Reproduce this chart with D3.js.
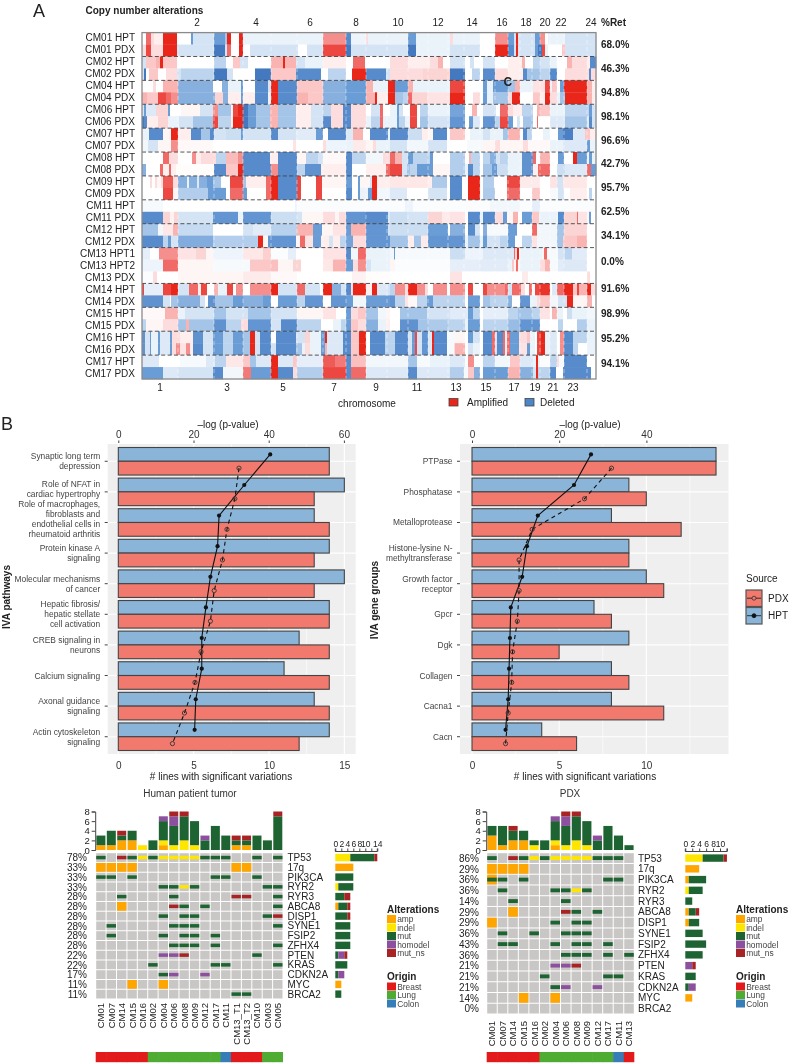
<!DOCTYPE html>
<html><head><meta charset="utf-8">
<script src="https://d3js.org/d3.v7.min.js"></script>
<style>
html,body{margin:0;padding:0;background:#fff}
svg{display:block;filter:blur(0.35px)}
text{font-family:"Liberation Sans",Arial,sans-serif;fill:#222}
</style></head><body><svg id="c" width="789" height="1063"></svg>
<script>
// ---------- Panel A data: "end:level" runs along the genome axis (0-454 bins)
const cnSamples = ["CM01 HPT","CM01 PDX","CM02 HPT","CM02 PDX","CM04 HPT","CM04 PDX","CM06 HPT","CM06 PDX","CM07 HPT","CM07 PDX","CM08 HPT","CM08 PDX","CM09 HPT","CM09 PDX","CM11 HPT","CM11 PDX","CM12 HPT","CM12 PDX","CM13 HPT1","CM13 HPT2","CM13 PDX","CM14 HPT","CM14 PDX","CM15 HPT","CM15 PDX","CM16 HPT","CM16 PDX","CM17 HPT","CM17 PDX"];
const cnRuns = [
"4:0 9:3 12:1 21:.5 35:4 49:0 51:-3 72:-1 83:-3 85:-2 89:4 97:0 101:4 181:-.5 204:2.5 209:-3.5 224:-.4 226:1 258:-.5 266:-.5 274:-3 308:-.5 311:1 338:-.5 353:0 366:2.5 372:-3 374:-1 376:4 393:-1 398:-3 403:2.5 406:0 423:-.5 445:-1 454:-1",
"4:1 9:3.5 21:1 35:4 72:-1 83:-4 85:-1 89:3 97:0 101:4 108:0 156:-1 165:0 181:-1 204:3.5 209:-4 258:-1 266:-1 274:-4 308:-.5 311:-1 338:-1 353:0 366:4 372:-3.5 374:-1 376:4 393:-1 396:-3 400:-4 403:3.5 406:-.5 420:0 423:1.5 445:-1 454:-1",
"4:-1 14:1.5 18:2 21:4 35:1.5 72:0 84:-1.5 91:0 98:1.5 106:-1 129:0 141:2 143:4 154:2 163:-1 181:-.5 204:.5 211:0 223:3 248:0 266:1 288:.5 296:1 301:2 308:0 323:-1 328:0 332:-1 341:0 353:-1 366:0 380:.5 383:2 391:0 398:-1.5 408:-1 415:-.5 425:0 430:2 445:1 448:.5 454:-3.5",
"2:-1 4:-4 7:0 16:1.5 24:0 35:1 39:-1 72:-1.5 85:-4 91:-1 113:0 129:-4 154:1.5 179:-3.5 186:0 204:-1.5 210:0 224:4 244:-3.5 248:-1 281:1 308:1.2 323:-4 330:0 338:-1.5 341:0 353:-3.5 366:1 381:.5 385:-3.5 398:-2 408:-1.5 415:-3.5 423:0 445:1 447:1 449:-3.5 454:1",
"11:0 14:1 21:0 36:2 71:-2.5 80:0 86:-2.5 99:-.5 101:-3 113:0 126:-3.5 129:-1 136:4 155:-3.5 181:1.5 204:-2.5 224:-3 231:2 246:-.5 253:4 266:-3 271:2 308:-.5 323:3.5 341:0 345:-3 351:-.5 366:-3 373:-2 378:2 391:-.5 403:.8 408:3.5 410:-.5 415:1.5 418:0 422:-3 445:4 450:2 454:.5",
"5:2 16:1.5 24:3.5 29:3 36:2.5 73:-2.5 81:1.2 86:-2.5 99:.5 101:-3 113:.5 126:-3.5 129:-.5 136:4 155:-3.5 166:2 181:1.5 204:-2.5 224:-3 233:2 235:4 246:.5 253:4 261:-2 266:-1.5 270:3 285:1.2 308:.8 323:4 331:0 338:1 341:0 345:-3 351:-.5 366:-2 370:1 378:4 391:0 398:1.5 403:.5 408:4 415:1 418:-.5 423:-2 445:4 450:2 454:.5",
"2:-1 4:-3 14:-.8 26:1.2 28:-3 39:0 58:.3 71:-1 76:2.5 89:-2 91:.5 96:3.5 101:4 106:-4 114:-3 128:-2 136:2 154:-2 169:.5 181:-1 189:-1.5 201:1 209:-3.5 224:1 229:0 238:-1 241:3 248:0 255:-.5 257:-3 261:-1 268:0 275:3.5 278:0 286:-1.5 308:-.5 323:-2.8 330:0 335:2 338:0 341:0 354:-1 358:0 366:3 371:1 380:.5 391:-1.5 395:0 398:2 408:1.5 423:-.5 445:-1.5 447:-1.5 450:-3 454:-1",
"2:-4 5:-3.5 16:.5 26:1.2 37:-.5 51:-1 71:-2 76:3.5 89:-1.5 91:.5 101:4 106:-4 114:-3 128:-2 136:2 154:-2 169:.5 181:-1 189:-3.5 201:1 209:-3.5 224:1 229:-.5 238:-1.5 241:3 248:-.5 255:-.5 257:-3 263:-1.5 268:-.5 275:3.5 278:0 286:-2 308:-1 323:-3.2 327:0 331:-3 338:-.8 341:0 353:-3.2 358:-1.5 366:3.5 371:-3 375:0 378:-1 381:0 391:-2 395:0 396:3 408:0 423:-.8 445:-2 447:-.8 450:-3.5 454:-1",
"7:-.5 21:-3.5 29:.3 36:4 49:.5 59:-3.5 68:-2 72:-3.5 84:-1 99:-1.2 101:-3 129:-1 136:-3.5 154:-1 174:-.7 181:-3 186:0 204:-3.5 211:-.8 221:2 228:0 246:-3.5 248:-.5 250:-3.5 266:-3.5 280:-1.2 286:.5 291:.3 305:-3.5 308:0 323:1.5 328:0 341:-.5 348:-1 361:-.5 366:-2 376:2 378:2 381:0 385:-3.5 390:-1.5 401:0 408:-.5 416:0 421:-3 431:-3.8 443:-.8 448:1.5 454:.5",
"6:-.3 16:-1 29:.3 36:2.5 71:.2 151:0 154:.8 181:0 184:1 204:-.4 211:-.5 224:.6 231:.3 234:1 248:-.5 265:-1 286:-.3 305:-1 325:0 341:-.2 353:.3 358:1 381:.3 386:1 408:.2 421:-.5 445:-.8 448:-3 454:-.5",
"21:0 27:3 36:1 50:0 54:2.5 59:.5 74:1 84:-1.5 96:1.8 101:2.5 128:-3.5 136:.5 155:-3.5 164:.3 176:-1.5 181:-1 204:.2 210:-3.5 224:-1.5 241:-.3 248:1 253:3 260:2 266:-1 271:-3 288:-1.5 291:-3 308:0 323:-1.7 327:0 329:2 338:-1.5 341:0 348:-1.5 354:-2.5 358:-1 366:-1.5 380:-.5 391:-3.3 394:3 398:0 408:2 416:0 422:-3 431:0 435:4 445:-3 447:-.5 450:-3 454:-.5",
"4:-2.5 18:0 21:3 27:.5 29:3 34:.5 72:.1 84:-3.5 96:1.5 101:4 129:-3.5 136:2.5 155:-3.5 163:-1.5 179:-3.3 204:.5 210:-3.5 224:0 244:.5 248:3 260:3.5 265:-1 268:-2 275:-1.5 291:-3 308:.3 323:-1.7 326:-.5 331:-3.5 338:-1.5 341:0 350:-2 355:-3 366:-1.2 380:-.5 391:-3.3 396:.5 408:3 415:0 423:-1.2 445:-.8 449:3 454:-3",
"8:0 10:1 13:0 15:1 19:.3 21:1 31:3.2 36:1 45:-2.5 47:-.5 55:-2.5 57:-.8 65:-2.5 71:-3 79:-2 88:0 101:3.5 104:-2 124:.5 129:3 136:4 155:-3.5 159:3.5 174:0 180:3.5 204:.3 210:-3 216:0 218:-3 228:.3 230:-1 235:4 248:.5 286:.7 290:.5 305:-1.8 308:.1 320:-3.5 326:0 338:4 341:0 352:-1.7 365:0 378:3.5 398:.6 408:0 415:.8 421:-1 445:.7 454:0",
"21:0 31:3.5 36:.3 66:-1.7 84:-3 88:0 101:3 105:-3 124:0 129:3 136:4 155:-3.5 159:3.5 174:0 180:3.5 204:0 210:-3.5 216:0 218:-3 226:-.5 230:-3 235:4 248:-.3 265:-.8 286:0 305:-1 308:0 320:-3.5 326:0 338:4 341:0 353:-1.8 365:0 378:3 390:0 398:1.5 408:0 416:-.2 422:-1 428:0 445:.5 447:0 450:-1.5 454:0",
"21:-.2 153:0 155:-.4 248:-.1 263:-.1 271:-.4 348:-.1 378:-.3 390:-.1 398:-.6 454:-.1",
"21:-3.5 28:1.2 32:.4 36:1.2 71:-1 96:-3.2 101:-.5 129:-3.2 155:-1.2 160:-1 181:.3 193:1 197:.3 204:1 224:-3.2 246:-3.5 248:-.8 265:-1.2 286:-1 300:1.2 308:.6 323:.8 326:0 338:-3.5 341:-.5 353:-3.5 361:1 365:-3 371:.3 376:2 380:0 390:-3 397:1.5 416:-.5 422:-3.5 435:1.2 436:3 445:.8 447:.3 449:-3 454:0",
"16:-2 21:-.3 31:.7 36:2 71:-1.3 101:0 111:-1 129:-.7 155:-1.6 171:2 180:-3 191:.3 204:.8 209:-3 224:2 246:-3.2 248:-1 266:-1.2 286:-1.2 306:-3 308:0 323:-2.5 326:0 333:-3.5 338:-1 341:0 345:-2.5 366:-.2 375:-3 390:0 395:3 415:-.3 422:-2 445:1.2 454:0",
"21:-3.5 26:-1.5 29:-3 36:-1 71:-2.6 116:-1.7 121:4 126:.3 154:-3.2 158:.3 163:3 171:.8 179:-3 187:.5 191:-1 198:.5 204:-1.5 211:-2.8 224:1 248:-3.2 266:-2 272:.5 279:-2 286:.6 308:-3.2 323:-3.2 326:-.5 338:-2 341:-.5 345:-3 358:-1 366:-1.5 373:-3 380:0 390:-1.5 395:.8 415:-.3 421:-2 435:1.5 445:2 454:0",
"8:-.6 17:0 36:2.5 54:.8 64:1.2 71:.3 101:-.4 121:.7 129:1.3 146:-.1 154:-.6 181:0 204:.8 209:-3.5 216:-.3 224:3 248:-.5 252:-.3 253:-3 286:-.2 308:-.2 323:-1.2 341:-.4 366:-.8 372:-.8 373:3 375:1 377:4 378:-.2 400:-.5 402:.3 405:3 416:-.2 423:-1 430:-1.5 445:-.7 454:0",
"21:-.4 36:3 71:.3 108:-.2 129:1.5 136:1.7 151:.3 159:1.2 181:0 191:.7 204:2 211:-3 216:1 224:2.5 229:-1 248:-.5 253:.3 308:-.1 338:-.6 366:-.7 370:-.5 372:1.5 374:.3 376:3 378:.3 398:-.5 403:1 408:2 416:-.2 421:-.7 445:-.8 454:0",
"11:-.1 15:1 36:0 101:.3 129:.6 155:.2 210:0 224:.4 248:.1 308:0 320:.8 380:0 386:.6 445:0 448:1 454:0",
"2:3.5 21:-.6 29:3.5 36:4 47:-1 56:3 59:.5 65:3.5 72:0 76:2 85:-.5 91:3.5 94:0 101:2.5 108:0 129:2.5 136:4 155:-1 163:3 178:-1 181:0 190:4 199:-2.5 204:-1 209:-3.5 211:1 224:4 230:.5 235:4 246:-.8 248:-1 253:-1.5 263:2.5 266:1 275:4 283:2.5 286:1 291:0 305:2.5 308:0 323:2.5 326:0 331:3.5 341:0 345:3.5 363:2.5 366:3 370:-1 379:3 383:1 387:0 390:3 393:0 398:3.5 408:3.8 410:0 415:-.8 422:3 431:4 435:1.5 437:3.5 445:2 449:4 454:1",
"21:-3.3 28:-1 29:0 36:-2 58:-2.5 63:-1 66:0 73:-3.3 91:-2 101:-3 121:-2.5 129:-3 136:0 155:-3 163:-1.5 181:-3.2 189:0 204:-3.2 211:-3 224:-.3 248:-3 253:-3.2 263:-1.5 266:.8 275:.2 285:-1.5 291:-3 308:-1.5 323:-1.5 326:0 338:-3 341:0 348:-2 366:-1.5 370:-2.5 378:0 388:-3.2 395:-.5 398:1 408:1.5 416:-.3 425:-1 431:4 445:.3 450:2 454:0",
"23:.2 36:2 43:-.5 72:-1 84:-2 106:-1 129:-2 155:-1 181:.3 194:.8 204:0 209:-3 216:1 224:1.5 236:-2 244:-.3 248:.3 258:0 285:-2 308:-1 326:-.7 331:-3 338:-1.5 341:0 366:-.6 376:-1.5 390:-2 398:-1.5 408:.8 410:0 415:2 421:-.5 425:0 430:-1.2 445:-.5 454:-.3",
"4:-1.5 21:.3 36:1 44:-2 47:2 72:-2 84:-3.3 99:-1.5 106:1 129:-3.2 139:-1 155:-3.5 179:-1.5 191:0 199:-.5 204:-1.5 209:-3 216:1.5 224:1 236:-2.5 244:-.5 248:.5 258:0 276:-3.3 286:-2 306:-1.8 323:-1.5 326:-.5 338:-3 341:0 366:-1.5 378:-2.2 398:-3.2 416:0 421:-1.5 435:0 445:-1.7 454:-.5",
"3:-3.3 8:-1 9:-3 16:-.5 18:-3 28:-.8 30:-3 38:1 51:.5 61:-3.3 71:-1 81:-3 91:-1.5 101:-3 108:-2 113:4 118:-1 129:-3.5 134:0 154:-3.5 163:-1 168:1.2 179:-.5 183:-3 185:4 201:-.8 209:-3.5 217:1.5 224:4 228:0 243:-3.5 248:-1.5 253:-1.5 266:-3.5 270:-1 273:-3 275:3.5 280:-1 286:-3.2 290:-.8 292:4 305:-3.5 312:-.2 323:.3 326:0 331:-3 338:-1 341:0 350:-3.5 353:3 355:-1 361:-3.5 363:3 365:-.5 368:3 377:-3 385:1 388:1.5 393:-.5 395:0 399:3.5 403:4 408:-.5 415:-.8 418:0 422:2.5 431:-3.5 445:-1.5 454:-.5",
"3:-3.3 8:-1 9:-3 16:-.5 18:-3 28:-.8 30:-3 34:1 38:2.5 44:.8 48:2.5 51:.5 61:-3.5 71:-1 81:-3 91:-1.5 101:-3 108:-2 113:4 118:-1 129:-3.5 134:-1 154:-3.5 160:-2 163:-.5 168:1 179:-.5 183:-3 185:2 201:-.8 209:-3.5 217:1.5 224:4 228:0 243:-3.5 248:-1.5 253:-1.5 266:-3.5 270:-1 273:-3 275:3.5 280:-1 286:-3.2 290:-.8 292:4 305:-3.5 312:-.2 313:1 323:2 326:0 331:-1 338:-.5 341:0 350:-3.5 353:3 355:-1 361:-3.5 363:3 365:-.5 368:3 377:-3 385:.8 388:-3 393:-.5 395:0 399:3.5 403:4 408:-.5 415:-.8 418:0 422:2.5 431:-3.5 436:-1.5 445:0 454:-.5",
"17:-.8 38:0 64:-.2 73:-.8 84:-1.5 101:.7 108:1.5 114:-2 129:-.8 136:4 151:-.8 155:1.5 181:-.6 193:3.2 204:2.8 209:-3.5 224:1.7 248:-.3 266:-.3 275:-2 288:-.2 308:-.5 323:-.8 326:-.1 332:2.5 338:0 341:0 353:-1.5 368:-.3 378:1.5 391:-.8 394:-.5 396:4 398:-.5 408:-.1 415:-1.5 417:1 422:-.2 445:-3.5 454:0",
"21:-3 36:-.8 71:-1 81:-3.5 101:-.3 109:2.8 129:-3 136:4 151:-3.5 155:1 181:-1.7 204:3.5 209:-3.5 224:3 248:-.8 266:-.8 275:-3.5 308:-.8 322:-1.7 326:-.2 332:1.5 338:-2.5 341:0 366:-3 378:2 391:-2.5 394:-1 396:4 408:-1.5 414:-3.5 421:0 445:-3.5 449:-3.5 454:0"
];
const retainedLabels = ["68.0%","46.3%","94.8%","98.1%","96.6%","42.7%","95.7%","62.5%","34.1%","0.0%","91.6%","98.9%","95.2%","94.1%"];
const retainedAtRow = [1,3,5,7,9,11,13,15,17,19.2,21.4,23.5,25.6,27.7];
const chromEvenTicks = [[2,55],[4,114],[6,168],[8,214],[10,256],[12,296],[14,330],[16,360],[18,384],[20,403],[22,419],[24,449]];
const chromOddTicks = [[1,18],[3,85],[5,141],[7,192],[9,234],[11,275],[13,314],[15,344],[17,372],[19,393],[21,411],[23,431]];
const chromBounds = [36,72,101,129,155,181,204,224,245,266,286,306,322,338,353,366,378,390,398,408,415,422,445];

// ---------- Panel B data
const pathways = [["Synaptic long term","depression"],["Role of NFAT in","cardiac hypertrophy"],["Role of macrophages,","fibroblasts and","endothelial cells in","rheumatoid arthritis"],["Protein kinase A","signaling"],["Molecular mechanisms","of cancer"],["Hepatic fibrosis/","hepatic stellate","cell activation"],["CREB signaling in","neurons"],["Calcium signaling"],["Axonal guidance ","signaling"],["Actin cytoskeleton","signaling"]];
const pathHPT = [14,15,13,14,15,14,12,11,13,14];
const pathPDX = [14,13,14,13,13,14,14,14,14,12];
const pathLogHPT = [40.4,33.5,26.8,26.4,24.5,23.3,22.2,22.2,20.6,20.3];
const pathLogPDX = [32.1,31,28.9,27.7,25.5,24.5,22,20.4,17.6,14.4];
const groups = [["PTPase"],["Phosphatase"],["Metalloprotease"],["Histone-lysine N-","methyltransferase"],["Growth factor","receptor"],["Gpcr"],["Dgk"],["Collagen"],["Cacna1"],["Cacn"]];
const groupHPT = [14,9,8,9,10,7,9,8,8,4];
const groupPDX = [14,10,12,9,11,8,5,9,11,6];
const groupLogHPT = [27.3,23.4,15.1,12.6,11.5,8.9,8.7,8.5,8.3,7.7];
const groupLogPDX = [32,25.8,13.8,10.8,10.8,10.4,9.3,9.1,8.3,7.7];

// ---------- Oncoprint data: a amp, i indel, m mut, h homodel, n mut_ns, b amp+mut
const genes = ["TP53","17q","PIK3CA","RYR2","RYR3","ABCA8","DISP1","SYNE1","FSIP2","ZFHX4","PTEN","KRAS","CDKN2A","MYC","BRCA2"];
const hptSamples = ["CM01","CM07","CM14","CM15","CM16","CM02","CM04","CM06","CM08","CM09","CM12","CM17","CM11","CM13_T1","CM13_T2","CM10","CM03","CM05"];
const hptCells = ["m.nmimiiiimmm..m.m","aaaa.........aa...","mm.m.......mm..m..","......mmim......mm","..m....m.....nn..m","..a....nm.m......m","......m.mm......mn",".m.....mmm.......m",".m....m.mm.m......",".......mmm.m.....m","......hhn......m..",".....m.....mm....m","......mh..h.......","...a..a...........",".............mm..."];
const hptPct = ["78%","33%","33%","33%","28%","28%","28%","28%","28%","28%","22%","22%","17%","11%","11%"];
const hptOrigin = ["Breast","Breast","Breast","Breast","Breast","Lung","Lung","Lung","Lung","Lung","Lung","Lung","Colon","Breast","Breast","Breast","Lung","Lung"];
const pdxSamples = ["CM01","CM07","CM14","CM15","CM16","CM02","CM04","CM06","CM08","CM09","CM12","CM17","CM11","CM13"];
const pdxCells = ["m.nmimiiiimmm.","aaaa..........","bm.m.......mm.",".m....mmim....","..m....m......","..a....nm.m...","a.....m.mm....",".m..m..mmm....",".mm...m.mm.m..",".......mmm.m.m","......hhn.....",".....m.....mm.","......mh..h...","...a..a.......",".............."];
const pdxPct = ["86%","29%","36%","36%","14%","29%","29%","36%","43%","36%","21%","21%","21%","14%","0%"];
const pdxOrigin = ["Breast","Breast","Breast","Breast","Breast","Lung","Lung","Lung","Lung","Lung","Lung","Lung","Colon","Breast"];
const altNames = ["amp","indel","mut","homodel","mut_ns"];
const altCodes = ["a","i","m","h","n"];
const altColors = ["#ffa500","#ffe600","#1e6432","#8c509e","#a82424"];
const originNames = ["Breast","Lung","Colon"];
const originColors = ["#e21a1c","#4fac32","#377eb8"];

// ---------- Drawing
const F = '"Liberation Sans",Arial,sans-serif';
const svg = d3.select("#c");
function T(sel,x,y,s,size,o={}){const t=sel.append("text").attr("x",x).attr("y",y).text(s).attr("font-size",size);
  if(o.a)t.attr("text-anchor",o.a); if(o.b)t.attr("font-weight","bold"); if(o.f)t.style("fill",o.f); if(o.r!==undefined)t.attr("transform",`rotate(${o.r} ${x} ${y})`); return t;}

// Panel A
(function(){
 const g=svg.append("g");
 const xS=d3.scaleLinear().domain([0,454]).range([142,596]);
 const yS=d3.scaleBand().domain(cnSamples).range([32.6,379]);
 const col=d3.scaleLinear().domain([-4,-3,-2,-1,0,1,2,3,4]).range(["#4479bf","#6a9cd6","#a4c4e8","#d5e4f5","#ffffff","#fcdcdc","#f9b4b2","#f06a68","#e8261a"]).clamp(true);
 cnSamples.forEach((s,i)=>{
   let start=0;
   const runs=cnRuns[i].split(" ").map(d=>d.split(":").map(Number));
   g.append("g").selectAll("rect").data(runs).join("rect")
     .attr("x",d=>{const x=xS(start);d.s=start;start=Math.max(start,d[0]);return x;})
     .attr("width",d=>Math.max(0,xS(d[0])-xS(d.s))+.3)
     .attr("y",yS(s)).attr("height",yS.bandwidth()+.3).attr("fill",d=>col(d[1]));
 });
 g.selectAll(".cb").data(chromBounds).join("line").attr("x1",xS).attr("x2",xS).attr("y1",33).attr("y2",379)
   .attr("stroke","#fff").attr("stroke-width",.9).attr("stroke-dasharray","4,3").attr("opacity",.5);
 const seps=cnSamples.map((s,i)=>i).filter(i=>i>0&&cnSamples[i].slice(0,4)!==cnSamples[i-1].slice(0,4));
 g.selectAll(".sep").data(seps).join("line").attr("x1",142).attr("x2",596)
   .attr("y1",i=>yS(cnSamples[i])).attr("y2",i=>yS(cnSamples[i]))
   .attr("stroke","#444").attr("stroke-width",.9).attr("stroke-dasharray","4,2.4");
 g.append("rect").attr("x",142).attr("y",32.6).attr("width",454).attr("height",346.4).attr("fill","none").attr("stroke","#8a8a8a").attr("stroke-width",1.3);
 const lab=d3.scalePoint().domain(cnSamples).range([37,373]);
 cnSamples.forEach(s=>T(g,135,lab(s)+3.5,s,10,{a:"end"}));
 chromEvenTicks.forEach(d=>T(g,xS(d[1]),25.5,d[0],10,{a:"middle"}));
 chromOddTicks.forEach(d=>T(g,xS(d[1]),390.5,d[0],10,{a:"middle"}));
 T(g,33,16.5,"A",18);
 T(g,85.5,14,"Copy number alterations",10,{b:1});
 T(g,601,25.5,"%Ret",10,{b:1});
 const rowScale=d3.scaleLinear().domain([0,29]).range([32.6,379]);
 retainedLabels.forEach((s,i)=>T(g,601,rowScale(retainedAtRow[i])+3.5,s,10,{b:1}));
 T(g,503.5,86,"C",12,{b:1,f:"#222"});
 T(g,367,407,"chromosome",10,{a:"middle"});
 [[449,"Amplified",467,"#e8261a"],[525,"Deleted",540,"#4a86c8"]].forEach(d=>{
   g.append("rect").attr("x",d[0]).attr("y",398.5).attr("width",9).attr("height",7.5).attr("fill",d[3]).attr("stroke","#444").attr("stroke-width",.8);
   T(g,d[2],406,d[1],10);
 });
 T(g,1,430,"B",18);
})();

// Panel B
function barPanel(cats,hpt,pdx,lhpt,lpdx,o){
 const g=svg.append("g");
 const top=444,bot=754;
 const x=d3.scaleLinear().domain([0,o.max]).range([o.x0,o.x0+o.max*o.pxB]);
 const xT=d3.scaleLinear().domain([0,o.lmax]).range([o.x0,o.x0+o.lmax*o.pxT]);
 const y=d3.scaleBand().domain(d3.range(cats.length)).range([447.5,750.5]).paddingInner(.1).paddingOuter(0);
 g.append("rect").attr("x",o.bgL).attr("y",top).attr("width",o.bgR-o.bgL).attr("height",bot-top).attr("fill","#efefef");
 const vals=d3.range(0,o.maxGrid+.1,2.5);
 g.selectAll(".gv").data(vals).join("line").attr("x1",x).attr("x2",x).attr("y1",top).attr("y2",bot).attr("stroke","#fff").attr("stroke-width",(d,i)=>i%2?.6:1.1);
 const c=d=>y(d)+y.bandwidth()/2;
 g.selectAll(".gh").data(d3.range(cats.length)).join("line").attr("x1",o.bgL).attr("x2",o.bgR).attr("y1",c).attr("y2",c).attr("stroke","#fff").attr("stroke-width",1.1);
 const bh=y.bandwidth()/2;
 const bars=(arr,off,fill)=>g.append("g").selectAll("rect").data(arr).join("rect").attr("x",x(0)).attr("width",d=>x(d)-x(0)).attr("y",(d,i)=>y(i)+off).attr("height",bh).attr("fill",fill).attr("stroke","#444").attr("stroke-width",1.1);
 bars(hpt,0,"#8ab4d8"); bars(pdx,bh,"#f1796d");
 const ln=(arr,off,dash)=>{
   const p=d3.line().x(d=>xT(d)).y((d,i)=>y(i)+off);
   g.append("path").attr("d",p(arr)).attr("fill","none").attr("stroke","#111").attr("stroke-width",1.1).attr("stroke-dasharray",dash);
 };
 ln(lpdx,bh*1.5,"4,3.5"); ln(lhpt,bh*.5,null);
 g.append("g").selectAll("circle").data(lpdx).join("circle").attr("cx",d=>xT(d)).attr("cy",(d,i)=>y(i)+bh*1.5).attr("r",2.1).attr("fill","none").attr("stroke","#333").attr("stroke-width",.9);
 g.append("g").selectAll("circle").data(lhpt).join("circle").attr("cx",d=>xT(d)).attr("cy",(d,i)=>y(i)+bh*.5).attr("r",2.1).attr("fill","#111");
 const axB=g.append("g").attr("transform",`translate(0,${bot})`).call(d3.axisBottom(x).tickValues(o.bTicks).tickSize(0).tickPadding(8).tickFormat(d3.format("d")));
 const axT=g.append("g").attr("transform",`translate(0,${top-1})`).call(d3.axisTop(xT).tickValues(o.tTicks).tickSize(2.5).tickPadding(2.8).tickFormat(d3.format("d")));
 [axB,axT].forEach(a=>{a.select(".domain").remove();a.selectAll("text").attr("font-size",10).style("font-family",F).style("fill","#333");a.selectAll("line").attr("stroke","#444");});
 cats.forEach((lines,i)=>{
   g.append("line").attr("x1",o.bgL-3).attr("x2",o.bgL).attr("y1",c(i)).attr("y2",c(i)).attr("stroke","#444");
   const sh=(o.nudge&&o.nudge[i])||0, n=lines.length;
   lines.forEach((l,k)=>T(g,o.bgL-7.5,c(i)+sh+(k-(n-1)/2)*10+3,l,8.4,{a:"end",f:"#444"}));
 });
 T(g,o.xTitle,780,"# lines with significant variations",10,{a:"middle"});
 T(g,o.tTitle,428,"–log (p-value)",10,{a:"middle"});
 T(g,o.yTitleX,o.yTitleY,o.yTitle,10,{a:"middle",b:1,r:-90});
}
barPanel(pathways,pathHPT,pathPDX,pathLogHPT,pathLogPDX,{x0:118.3,pxB:15.07,pxT:3.76,max:15,lmax:60,maxGrid:15,bgL:107.7,bgR:355.7,bTicks:[0,5,10,15],tTicks:[0,20,40,60],xTitle:221,tTitle:228,yTitle:"IVA pathways",yTitleX:10,yTitleY:597,nudge:{1:-2.5,2:-3.5}});
barPanel(groups,groupHPT,groupPDX,groupLogHPT,groupLogPDX,{x0:472,pxB:17.43,pxT:4.36,max:14,lmax:50,maxGrid:12.5,bgL:460,bgR:728.5,bTicks:[0,5,10],tTicks:[0,20,40],xTitle:585,tTitle:590,yTitle:"IVA gene groups",yTitleX:378,yTitleY:600});

// Source legend
(function(){
 const g=svg.append("g");
 T(g,746,582,"Source",10);
 [["PDX",590,"#f1796d",true],["HPT",607.5,"#8ab4d8",false]].forEach(d=>{
   g.append("rect").attr("x",746).attr("y",d[1]).attr("width",16).attr("height",16.5).attr("fill",d[2]).attr("stroke","#555").attr("stroke-width",1.2);
   g.append("line").attr("x1",747).attr("x2",761).attr("y1",d[1]+8.2).attr("y2",d[1]+8.2).attr("stroke","#222").attr("stroke-width",.9);
   g.append("circle").attr("cx",754).attr("cy",d[1]+8.2).attr("r",2).attr("fill",d[3]?d[2]:"#111").attr("stroke",d[3]?"#333":"#111").attr("stroke-width",.8);
   T(g,768,d[1]+11.5,d[0],10);
 });
})();

// Oncoprints
function onco(o){
 const g=svg.append("g");
 const x=d3.scaleBand().domain(d3.range(o.samples.length)).range([o.x0,o.x1]);
 const y=d3.scaleBand().domain(genes).range([852.7,o.yEnd]);
 const cw=x.bandwidth(),rh=y.bandwidth();
 T(g,o.titleX,796.5,o.title,10,{a:"middle",f:"#333"});
 // top stacked
 const yTop=d3.scaleLinear().domain([0,8]).range([850,811.5]);
 o.samples.forEach((s,j)=>{
   let acc=0;
   altCodes.forEach((c,k)=>{
     const n=o.cells.reduce((m,r)=>{const ch=r[j];return m+((ch===c)||(ch==="b"&&(c==="a"||c==="m"))?1:0);},0);
     if(!n)return;
     g.append("rect").attr("x",x(j)+.7).attr("width",cw-1.4).attr("y",yTop(acc+n)).attr("height",yTop(acc)-yTop(acc+n)).attr("fill",altColors[k]);
     acc+=n;
   });
 });
 const ay=g.append("g").attr("transform",`translate(${o.x0-.5},0)`).call(d3.axisLeft(yTop).tickValues([0,2,4,6,8]).tickSize(3.5).tickPadding(2).tickFormat(d3.format("d")));
 ay.selectAll("text").attr("font-size",9.5).style("font-family",F).style("fill","#222");
 ay.selectAll("line,path").attr("stroke","#444");
 // cell grid
 genes.forEach((gn,i)=>{
   o.samples.forEach((s,j)=>{
     const ch=o.cells[i][j];
     g.append("rect").attr("x",x(j)+.5).attr("y",y(gn)+.5).attr("width",cw-1).attr("height",rh-1).attr("fill","#c9c7c5");
     if(ch==="a"||ch==="b")g.append("rect").attr("x",x(j)+.5).attr("y",y(gn)+.5).attr("width",cw-1).attr("height",rh-1).attr("fill",altColors[0]);
     if(ch!=="."&&ch!=="a"){const c=ch==="b"?"m":ch;
       g.append("rect").attr("x",x(j)+.5).attr("y",y(gn)+rh*.32).attr("width",cw-1).attr("height",rh*.36).attr("fill",altColors[altCodes.indexOf(c)]);}
   });
   T(g,o.pctX,y(gn)+rh/2+3.8,o.pct[i],10,{a:"end"});
   T(g,o.geneX,y(gn)+rh/2+3.5,gn,10);
 });
 // side bars
 const xS=d3.scaleLinear().domain([0,o.sideMax]).range([o.side0,o.side0+o.sideMax*o.sidePx]);
 const ax=g.append("g").attr("transform","translate(0,851.5)").call(d3.axisTop(xS).tickValues(d3.range(0,o.sideMax+1,2)).tickSize(3).tickPadding(1.5).tickFormat(d=>o.sideHide.includes(d)?"":d));
 ax.selectAll("text").attr("font-size",8.5).style("font-family",F).style("fill","#222");
 ax.selectAll("line,path").attr("stroke","#444");
 ax.select(".domain").attr("d",`M${xS(0)},-3V0H${xS(o.sideMax)}V-3`);
 genes.forEach((gn,i)=>{
   let acc=0;
   altCodes.forEach((c,k)=>{
     const n=[...o.cells[i]].filter(ch=>ch===c||(ch==="b"&&(c==="m"||c==="a"))).length;
     if(!n)return;
     g.append("rect").attr("x",xS(acc)).attr("width",xS(n)-xS(0)).attr("y",y(gn)+rh/2-3.7).attr("height",7.4).attr("fill",altColors[k]);
     acc+=n;
   });
 });
 // sample names
 o.samples.forEach((s,j)=>{
   const px=x(j)+cw/2+3.4;
   T(g,px,o.nameTop,s,9.5,{a:"end",r:-90});
   g.append("rect").attr("x",x(j)).attr("width",cw+(j<o.samples.length-1?.6:0)).attr("y",1052).attr("height",10.2).attr("fill",originColors[originNames.indexOf(o.origin[j])]);
 });
 // legends
 T(g,o.legX,912.5,"Alterations",10,{b:1});
 const ly=d3.scaleLinear().domain([0,1]).range([915,923.5]);
 altNames.forEach((a,k)=>{
   g.append("rect").attr("x",o.legX).attr("y",ly(k)).attr("width",9).attr("height",8).attr("fill",altColors[k]);
   T(g,o.legX+10.2,ly(k)+7,a,8.4,{f:"#444"});
 });
 T(g,o.legX,979.5,"Origin",10,{b:1});
 const ly2=d3.scaleLinear().domain([0,1]).range([982.5,991]);
 originNames.forEach((a,k)=>{
   g.append("rect").attr("x",o.legX).attr("y",ly2(k)).attr("width",9).attr("height",8).attr("fill",originColors[k]);
   T(g,o.legX+10.2,ly2(k)+7,a,8.4,{f:"#444"});
 });
}
onco({samples:hptSamples,cells:hptCells,pct:hptPct,origin:hptOrigin,title:"Human patient tumor",titleX:190,x0:95.7,x1:283,yEnd:999,pctX:87,geneX:287.5,side0:335.3,sidePx:3,sideMax:14,sideHide:[12],legX:387,nameTop:1003});
onco({samples:pdxSamples,cells:pdxCells,pct:pdxPct,origin:pdxOrigin,title:"PDX",titleX:570,x0:486.7,x1:634.3,yEnd:1014,pctX:479,geneX:638,side0:685.3,sidePx:3.47,sideMax:12,sideHide:[12],legX:736,nameTop:1021});
</script></body></html>
